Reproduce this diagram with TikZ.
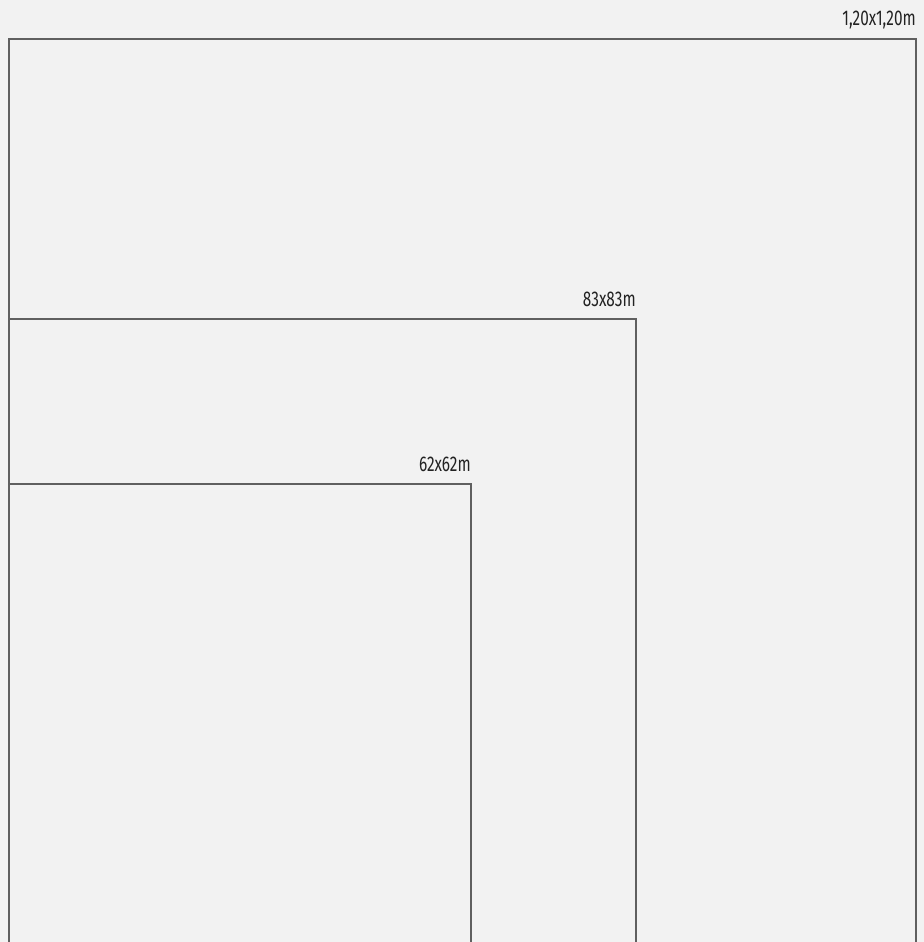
\documentclass[tikz,border=0pt]{standalone}
\usepackage{fontspec}
\setmainfont[FakeStretch=0.72]{Fira Sans}
\definecolor{bg}{HTML}{F2F2F2}
\definecolor{ln}{HTML}{606060}
\definecolor{tx}{HTML}{222222}
\begin{document}
\begin{tikzpicture}[x=0.75pt,y=-0.75pt,
  frame/.style={draw=ln,line width=0.8pt},
  lbl/.style={anchor=base east,inner sep=0pt,text=tx,font=\fontsize{16}{18}\selectfont}]
\fill[bg] (0,0) rectangle (924,942);
\clip (0,0) rectangle (924,942);
\draw[frame] (9,950) -- (9,39) -- (916,39) -- (916,950);
\draw[frame] (9,950) -- (9,319) -- (636,319) -- (636,950);
\draw[frame] (9,950) -- (9,484) -- (471,484) -- (471,950);
\node[lbl] (l1) at (916,26) {1,20x1,20m};
\node[lbl] (l2) at (636,306) {83x83m};
\node[lbl] (l3) at (471,471) {62x62m};
\end{tikzpicture}
\end{document}
